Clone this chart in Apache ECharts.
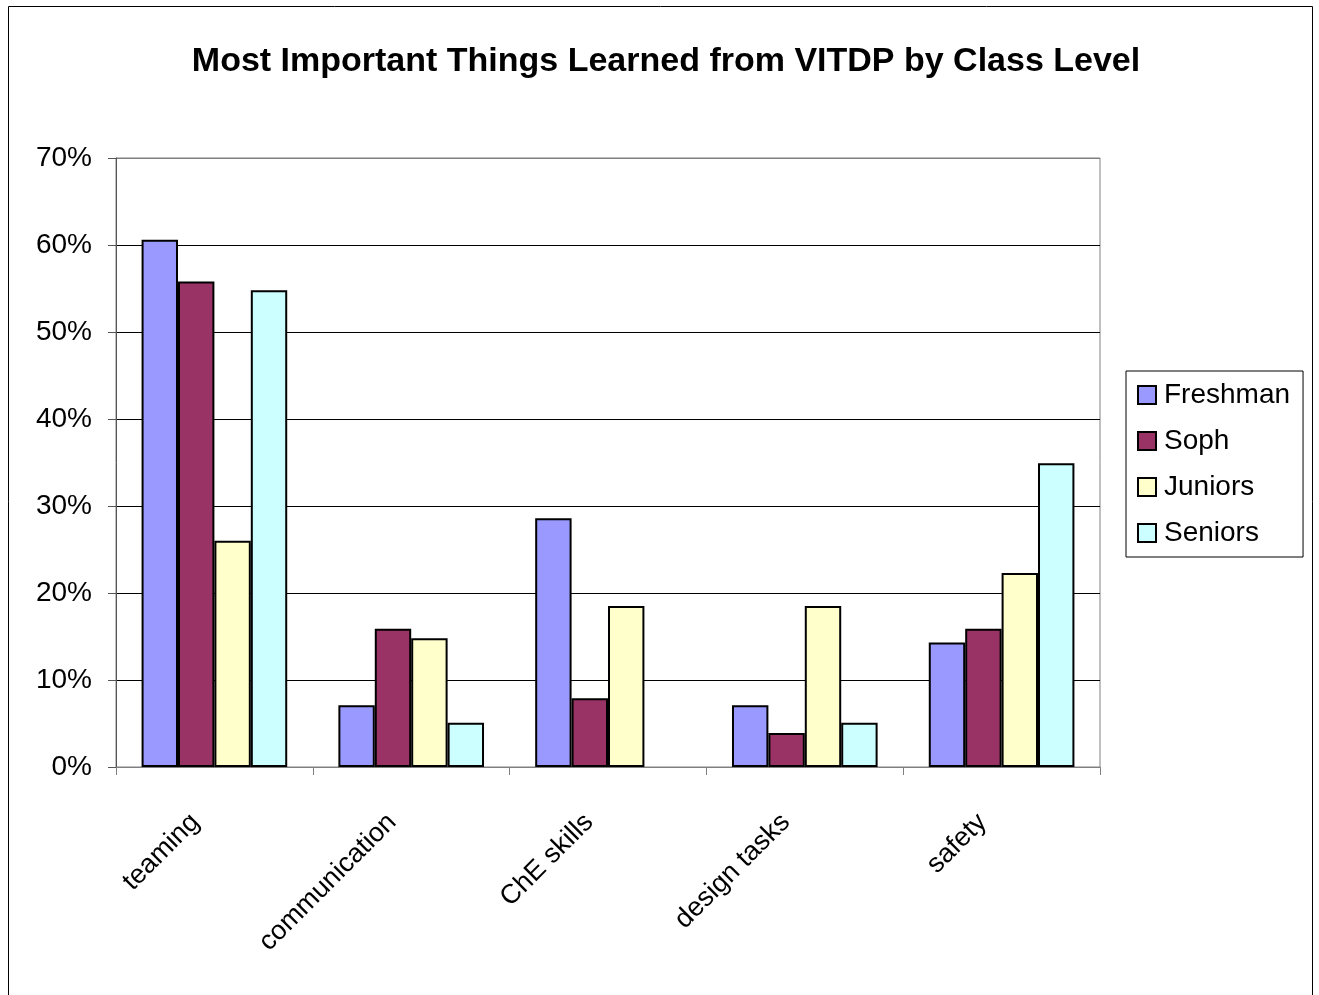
<!DOCTYPE html>
<html>
<head>
<meta charset="utf-8">
<script src="https://cdn.jsdelivr.net/npm/echarts@6/dist/echarts.min.js"></script>
<style>
html,body{margin:0;padding:0;background:#fff;}
#chart{width:1319px;height:995px;}
</style>
</head>
<body>
<div id="chart"></div>
<script>
const categories = ['teaming', 'communication', 'ChE skills', 'design tasks', 'safety'];
const freshman = [60.6, 7.1, 28.6, 7.1, 14.3];
const soph = [55.8, 15.9, 7.9, 3.9, 15.9];
const juniors = [26.0, 14.8, 18.5, 18.5, 22.3];
const seniors = [54.8, 5.1, null, 5.1, 34.9];
const yTicks = [0, 10, 20, 30, 40, 50, 60, 70];

const font = 'Liberation Sans, Arial, sans-serif';
const chart = echarts.init(document.getElementById('chart'), null, {renderer: 'canvas'});

function mk(name, data, color) {
  return {
    name: name, type: 'bar', data: data,
    barGap: '0%', barCategoryGap: '26%',
    itemStyle: {color: color, borderColor: '#000', borderWidth: 2},
    emphasis: {disabled: true}
  };
}

chart.setOption({
  animation: false,
  backgroundColor: '#fff',
  title: {
    text: 'Most Important Things Learned from VITDP by Class Level',
    left: 661, top: 40, textAlign: 'center',
    textStyle: {fontFamily: font, fontWeight: 'bold', fontSize: 34, color: '#000'}
  },
  graphic: [{
    type: 'rect', shape: {x: 8.5, y: 6.5, width: 1304, height: 1000},
    style: {fill: null, stroke: '#000', lineWidth: 1}, silent: true, z: -1
  }],
  legend: {
    orient: 'vertical', left: 1126, top: 371,
    backgroundColor: '#fff', borderColor: '#000', borderWidth: 1,
    padding: [10, 13, 10, 11],
    itemWidth: 18, itemHeight: 18, itemGap: 18,
    icon: 'rect',
    textStyle: {fontFamily: font, fontSize: 28, lineHeight: 28, color: '#000', padding: [0, 0, 0, 3]},
    data: ['Freshman', 'Soph', 'Juniors', 'Seniors']
  },
  grid: {
    left: 116, top: 158, right: 219, bottom: 228,
    show: true, borderColor: '#808080', borderWidth: 1, containLabel: false
  },
  xAxis: {
    type: 'category', data: categories,
    axisLine: {show: true, lineStyle: {color: '#808080', width: 1}},
    axisTick: {show: true, length: 8, lineStyle: {color: '#808080'}},
    axisLabel: {rotate: 45, margin: 32, fontFamily: font, fontSize: 27, color: '#000', padding: [0, 27, 0, 0]}
  },
  yAxis: {
    type: 'value', min: 0, max: 70, interval: 10,
    axisLine: {show: true, lineStyle: {color: '#555', width: 1}},
    axisTick: {show: true, length: 8, lineStyle: {color: '#555'}},
    axisLabel: {margin: 24, fontFamily: font, fontSize: 28, color: '#000',
      formatter: function(v){ return yTicks.indexOf(v) >= 0 ? v + '%' : ''; }},
    splitLine: {show: true, lineStyle: {color: ['#808080','#000','#000','#000','#000','#000','#000','#808080'], width: 1}}
  },
  series: [
    mk('Freshman', freshman, '#9999FF'),
    mk('Soph', soph, '#993366'),
    mk('Juniors', juniors, '#FFFFCC'),
    mk('Seniors', seniors, '#CCFFFF')
  ]
});
</script>
</body>
</html>
